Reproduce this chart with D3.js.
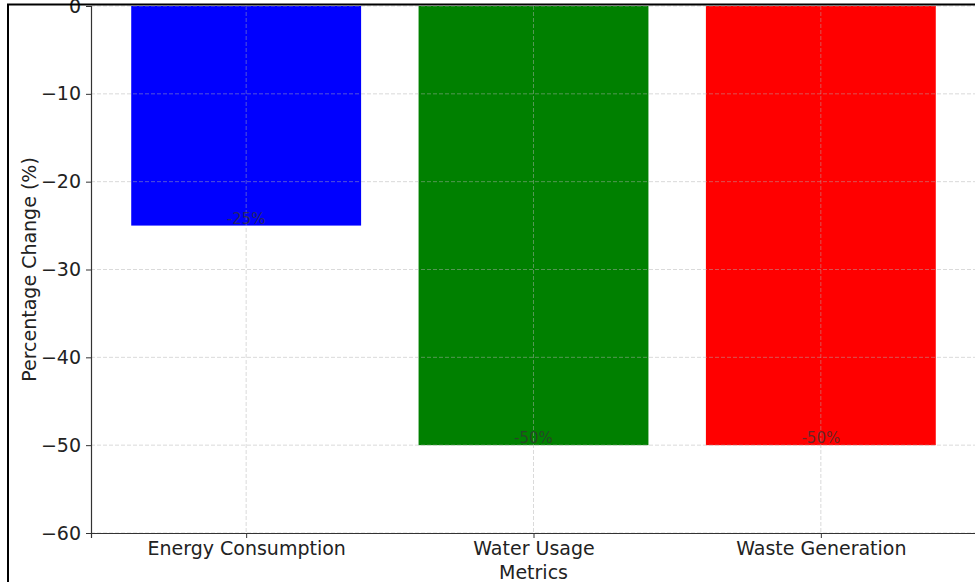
<!DOCTYPE html>
<html>
<head>
<meta charset="utf-8">
<script src="https://cdn.jsdelivr.net/npm/d3@7"></script>
<style>
  body { margin: 0; background: #fff; }
  svg { display: block; font-family: "DejaVu Sans", sans-serif; }
</style>
</head>
<body>
<svg id="chart" width="975" height="582"></svg>
<script>
// chart data
var metrics = ["Energy Consumption", "Water Usage", "Waste Generation"];
var changes = [-25, -50, -50];
var barColors = ["#0000ff", "#008000", "#ff0000"];
var yTicks = [0, -10, -20, -30, -40, -50, -60];

var svg = d3.select("#chart");

// plot area
var plotLeft = 91, plotRight = 976, plotTop = 6, plotBottom = 533;

// x scale like matplotlib: bars at 0..2, width 0.8, 5% margins
var x = d3.scaleLinear().domain([-0.54, 2.54]).range([plotLeft, plotRight]);
var y = d3.scaleLinear().domain([-60, 0]).range([plotBottom, plotTop]);
var barW = 0.8;

// bars
svg.selectAll("rect.bar")
    .data(changes)
    .enter()
    .append("rect")
    .attr("class", "bar")
    .attr("x", function(d, i) { return x(i - barW / 2); })
    .attr("width", function(d, i) { return x(i + barW / 2) - x(i - barW / 2); })
    .attr("y", y(0))
    .attr("height", function(d) { return y(d) - y(0); })
    .attr("fill", function(d, i) { return barColors[i]; });

// grid (drawn above bars)
var grid = svg.append("g").attr("stroke", "#b0b0b0").attr("stroke-opacity", 0.6)
    .attr("stroke-dasharray", "4,2").attr("stroke-width", 0.8);
grid.selectAll("line.h")
    .data(yTicks)
    .enter()
    .append("line")
    .attr("x1", plotLeft).attr("x2", plotRight)
    .attr("y1", function(d) { return y(d); })
    .attr("y2", function(d) { return y(d); });
grid.selectAll("line.v")
    .data(metrics)
    .enter()
    .append("line")
    .attr("x1", function(d, i) { return x(i); })
    .attr("x2", function(d, i) { return x(i); })
    .attr("y1", plotTop).attr("y2", plotBottom);

// value labels
svg.selectAll("text.val")
    .data(changes)
    .enter()
    .append("text")
    .attr("x", function(d, i) { return x(i); })
    .attr("y", function(d) { return y(d) - 2; })
    .attr("text-anchor", "middle")
    .attr("font-size", 15)
    .attr("fill", "#333")
    .attr("fill-opacity", 0.75)
    .text(function(d) { return d + "%"; });

// y axis
var yAxis = svg.append("g")
    .attr("transform", "translate(" + plotLeft + ",0)")
    .call(d3.axisLeft(y).tickValues(yTicks).tickSize(5).tickPadding(5)
        .tickFormat(function(d) { return d < 0 ? "\u2212" + Math.abs(d) : d; }));
yAxis.select(".domain").attr("stroke", "#333").attr("stroke-width", 1.2);
yAxis.selectAll(".tick line").attr("stroke", "#333");
yAxis.selectAll("text").attr("font-size", 19).attr("fill", "#222")
    .attr("font-family", "DejaVu Sans");

// x axis
var xAxis = svg.append("g")
    .attr("transform", "translate(0," + plotBottom + ")")
    .call(d3.axisBottom(x).tickValues([0, 1, 2]).tickSize(5).tickPadding(4)
        .tickFormat(function(d) { return metrics[d]; }));
xAxis.select(".domain").attr("stroke", "#333").attr("stroke-width", 1.2);
xAxis.selectAll(".tick line").attr("stroke", "#333");
xAxis.selectAll("text").attr("font-size", 19).attr("fill", "#222")
    .attr("font-family", "DejaVu Sans");

// axis titles
svg.append("text")
    .attr("transform", "translate(36," + (plotTop + plotBottom) / 2 + ") rotate(-90)")
    .attr("text-anchor", "middle")
    .attr("font-size", 19)
    .attr("fill", "#222")
    .text("Percentage Change (%)");
svg.append("text")
    .attr("x", (plotLeft + plotRight) / 2)
    .attr("y", 579)
    .attr("text-anchor", "middle")
    .attr("font-size", 19)
    .attr("fill", "#222")
    .text("Metrics");

// screenshot frame
svg.append("rect")
    .attr("x", 8).attr("y", 4.5)
    .attr("width", 1000).attr("height", 600)
    .attr("fill", "none")
    .attr("stroke", "#000")
    .attr("stroke-width", 2);
</script>
</body>
</html>
